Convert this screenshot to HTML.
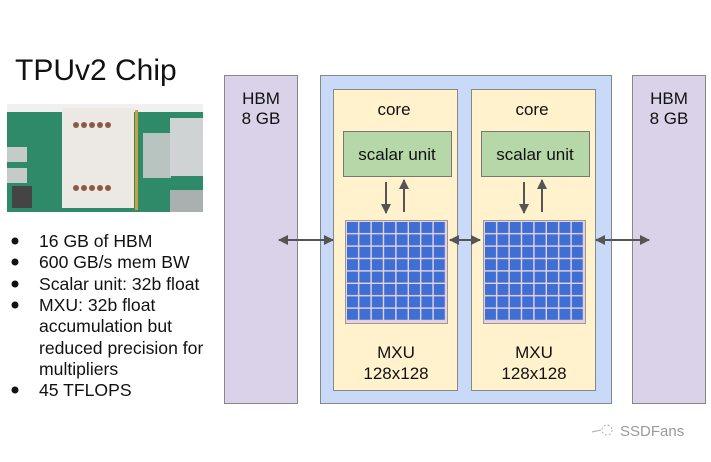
<!DOCTYPE html>
<html><head><style>
body{margin:0;width:711px;height:457px;background:#fff;overflow:hidden;font-family:"Liberation Sans",sans-serif}
</style></head><body>
<svg width="711" height="457" xmlns="http://www.w3.org/2000/svg" font-family="Liberation Sans, sans-serif">
<defs>
<marker id="a" markerWidth="10" markerHeight="10" refX="9" refY="5" orient="auto" markerUnits="userSpaceOnUse"><path d="M0,0 L10,5 L0,10z" fill="#555"/></marker>
<pattern id="g" x="347" y="222" width="12.4" height="12.4" patternUnits="userSpaceOnUse"><rect width="11" height="11" fill="#3d6fd4"/></pattern>
<pattern id="g2" x="485" y="222" width="12.4" height="12.4" patternUnits="userSpaceOnUse"><rect width="11" height="11" fill="#3d6fd4"/></pattern>
</defs>
<text x="15" y="80" font-size="30" fill="#111">TPUv2 Chip</text>
<!-- photo -->
<rect x="7" y="104" width="196" height="108" fill="#2e8a68"/>
<rect x="7" y="104" width="196" height="8" fill="#f0f0f0"/>
<rect x="62" y="108" width="72" height="100" fill="#ece9e4"/>
<rect x="135" y="110" width="3" height="100" fill="#c9a33a"/>
<rect x="143" y="133" width="28" height="45" fill="#b9c4c0"/>
<rect x="170" y="118" width="33" height="58" fill="#cfd3d3"/>
<rect x="170" y="190" width="33" height="22" fill="#aab0b0"/>
<rect x="7" y="147" width="20" height="15" fill="#c5cbc8"/>
<rect x="7" y="168" width="20" height="15" fill="#c5cbc8"/>
<rect x="12" y="186" width="20" height="22" fill="#444"/>
<g fill="#8a5a45"><circle cx="76" cy="125" r="3"/><circle cx="84" cy="125" r="3"/><circle cx="92" cy="125" r="3"/><circle cx="100" cy="125" r="3"/><circle cx="108" cy="125" r="3"/>
<circle cx="76" cy="188" r="3"/><circle cx="84" cy="188" r="3"/><circle cx="92" cy="188" r="3"/><circle cx="100" cy="188" r="3"/><circle cx="108" cy="188" r="3"/></g>
<!-- bullets -->
<g font-size="17.6" fill="#111">
<g fill="#111"><circle cx="15" cy="241" r="3.5"/><circle cx="15" cy="262" r="3.5"/><circle cx="15" cy="284" r="3.5"/><circle cx="15" cy="305" r="3.5"/><circle cx="15" cy="390" r="3.5"/></g>
<text x="39" y="247">16 GB of HBM</text>
<text x="39" y="268">600 GB/s mem BW</text>
<text x="39" y="290">Scalar unit: 32b float</text>
<text x="39" y="311">MXU: 32b float</text>
<text x="39" y="332">accumulation but</text>
<text x="39" y="354">reduced precision for</text>
<text x="39" y="375">multipliers</text>
<text x="39" y="396">45 TFLOPS</text>
</g>
<!-- HBM -->
<rect x="224.5" y="75.5" width="73" height="328" fill="#d9d2e9" stroke="#888"/>
<rect x="632.5" y="75.5" width="73" height="328" fill="#d9d2e9" stroke="#888"/>
<g font-size="17" fill="#111" text-anchor="middle">
<text x="261" y="104">HBM</text><text x="261" y="124">8 GB</text>
<text x="669" y="104">HBM</text><text x="669" y="124">8 GB</text>
</g>
<!-- chip -->
<rect x="320.5" y="75.5" width="291" height="328" fill="#c9daf8" stroke="#888"/>
<rect x="333.5" y="89.5" width="124" height="301" fill="#fff2cc" stroke="#888"/>
<rect x="471.5" y="89.5" width="124" height="301" fill="#fff2cc" stroke="#888"/>
<rect x="343.5" y="131.5" width="108" height="45" fill="#b6d7a8" stroke="#777"/>
<rect x="481.5" y="131.5" width="108" height="45" fill="#b6d7a8" stroke="#777"/>
<rect x="345.5" y="220.5" width="102" height="103" fill="#ead1dc" stroke="#999"/>
<rect x="483.5" y="220.5" width="102" height="103" fill="#ead1dc" stroke="#999"/>
<rect x="347" y="222" width="99" height="99" fill="url(#g)"/>
<rect x="485" y="222" width="99" height="99" fill="url(#g2)"/>
<g font-size="17" fill="#111" text-anchor="middle">
<text x="394" y="115">core</text><text x="532" y="115">core</text>
<text x="397" y="160">scalar unit</text><text x="535" y="160">scalar unit</text>
<text x="396" y="358">MXU</text><text x="396" y="379">128x128</text>
<text x="534" y="358">MXU</text><text x="534" y="379">128x128</text>
</g>
<!-- arrows -->
<g stroke="#555" stroke-width="2" fill="none">
<line x1="386" y1="182" x2="386" y2="213" marker-end="url(#a)"/>
<line x1="404" y1="212" x2="404" y2="180" marker-end="url(#a)"/>
<line x1="524" y1="182" x2="524" y2="213" marker-end="url(#a)"/>
<line x1="542" y1="212" x2="542" y2="180" marker-end="url(#a)"/>
<line x1="300" y1="240" x2="333" y2="240" marker-end="url(#a)"/>
<line x1="310" y1="240" x2="279" y2="240" marker-end="url(#a)"/>
<line x1="460" y1="240" x2="480" y2="240" marker-end="url(#a)"/>
<line x1="470" y1="240" x2="450" y2="240" marker-end="url(#a)"/>
<line x1="620" y1="240" x2="596" y2="240" marker-end="url(#a)"/>
<line x1="610" y1="240" x2="649" y2="240" marker-end="url(#a)"/>
</g>
<!-- watermark -->
<g stroke="#aaa" fill="none" stroke-width="1"><circle cx="607" cy="430" r="5" stroke-dasharray="2,2"/><line x1="592" y1="432" x2="601" y2="430"/></g>
<text x="620" y="436" font-size="15" fill="#999">SSDFans</text>
</svg>
</body></html>
